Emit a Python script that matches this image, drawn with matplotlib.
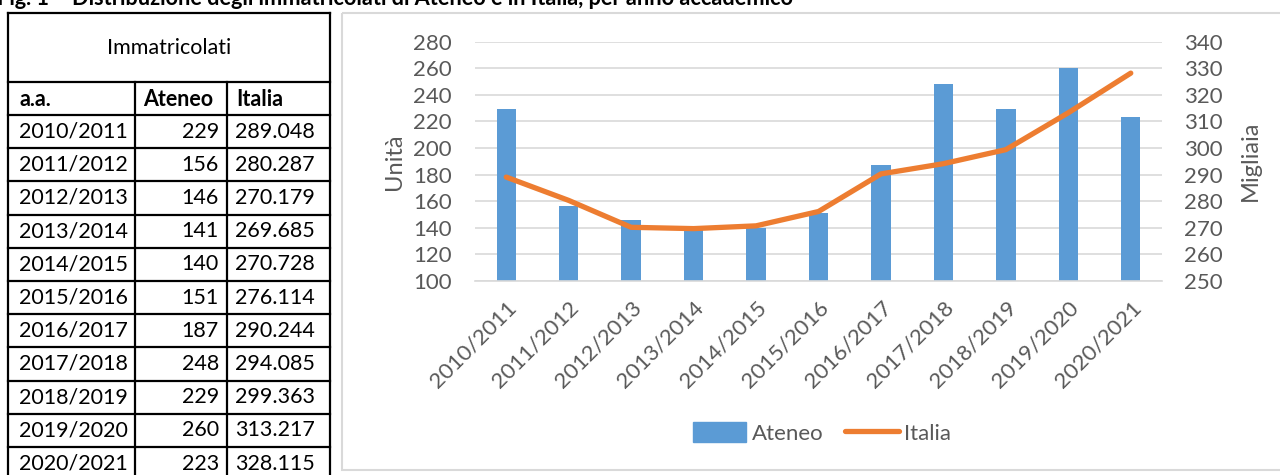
import matplotlib
matplotlib.use("Agg")
import matplotlib.pyplot as plt
from matplotlib.patches import Rectangle
from matplotlib.lines import Line2D

plt.rcParams['font.family'] = ['Lato', 'DejaVu Sans']

years = ["2010/2011", "2011/2012", "2012/2013", "2013/2014", "2014/2015", "2015/2016",
         "2016/2017", "2017/2018", "2018/2019", "2019/2020", "2020/2021"]
ateneo = [229, 156, 146, 141, 140, 151, 187, 248, 229, 260, 223]
italia = [289048, 280287, 270179, 269685, 270728, 276114, 290244, 294085, 299363, 313217, 328115]

title = "Fig. 1 – Distribuzione degli immatricolati di Ateneo e in Italia, per anno accademico"
W, H = 1280, 475
fig = plt.figure(figsize=(W / 100, H / 100), dpi=100)

# overlay axes in pixel coordinates for table and frame
ov = fig.add_axes([0, 0, 1, 1])
ov.set_xlim(0, W)
ov.set_ylim(H, 0)
ov.axis('off')

ov.text(-3, 5, title, fontsize=15.7, fontweight='bold', ha='left', va='baseline', color='black')

# chart frame
ov.add_patch(Rectangle((342, 13), 1000, 457, fill=False, edgecolor='#D9D9D9', lw=1.5))

# table
x0, c1, c2, x3 = 8, 135, 227, 330
ytop, yhead, ysub = 13, 82, 115
rh = 33.2
lw = 1.6
ybot = ysub + rh * len(years)
ov.plot([x0, x3], [ytop, ytop], color='black', lw=lw)
ov.plot([x0, x3], [yhead, yhead], color='black', lw=lw)
ov.plot([x0, x3], [ysub, ysub], color='black', lw=lw)
for k in range(1, len(years) + 1):
    ov.plot([x0, x3], [ysub + rh * k] * 2, color='black', lw=lw)
ov.plot([x0, x0], [ytop, ybot + 5], color='black', lw=lw)
ov.plot([x3, x3], [ytop, ybot + 5], color='black', lw=lw)
ov.plot([c1, c1], [yhead, ybot + 5], color='black', lw=lw)
ov.plot([c2, c2], [yhead, ybot + 5], color='black', lw=lw)

fs = 15.5
ov.text((x0 + x3) / 2, 48, "Immatricolati", fontsize=fs, ha='center', va='center', color='black')
ov.text(19, 99, "a.a.", fontsize=fs, fontweight='bold', ha='left', va='center')
ov.text(143, 99, "Ateneo", fontsize=fs, fontweight='bold', ha='left', va='center')
ov.text(236, 99, "Italia", fontsize=fs, fontweight='bold', ha='left', va='center')
for i, (yr, a, it) in enumerate(zip(years, ateneo, italia)):
    yc = ysub + rh * (i + 0.5)
    ov.text(19, yc, yr, fontsize=fs, ha='left', va='center')
    ov.text(219, yc, f"{a}", fontsize=fs, ha='right', va='center')
    ov.text(235, yc, f"{it:,}".replace(",", "."), fontsize=fs, ha='left', va='center')

# chart
left = 475 / W
right = 1162 / W
bottom = 1 - 281 / H
top = 1 - 41.5 / H
ax = fig.add_axes([left, bottom, right - left, top - bottom])
ax2 = ax.twinx()
ax.set_zorder(1)
ax2.set_zorder(2)
ax.patch.set_visible(False)
ax2.patch.set_visible(False)

x = list(range(len(years)))
bar_c = '#5B9BD5'
line_c = '#ED7D31'
grey = '#595959'

ax.bar(x, ateneo, width=0.31, color=bar_c, zorder=2, label='Ateneo')
ax2.plot(x, [v / 1000 for v in italia], color=line_c, lw=3.8, solid_capstyle='round',
         solid_joinstyle='round', label='Italia')

ax.set_xlim(-0.5, len(years) - 0.5)
ax.set_ylim(100, 280)
ax.set_yticks(range(100, 281, 20))
ax2.set_ylim(250, 340)
ax2.set_yticks(range(250, 341, 10))

ax.grid(axis='y', color='#D9D9D9', lw=1.2, zorder=0)
ax.set_axisbelow(True)
tfs = 16
for a_ in (ax, ax2):
    for s in a_.spines.values():
        s.set_visible(False)
    a_.tick_params(length=0, labelsize=tfs, colors=grey)
ax.spines['bottom'].set_visible(True)
ax.spines['bottom'].set_color('#D9D9D9')
ax.spines['bottom'].set_linewidth(1.2)

ax.tick_params(axis='y', pad=16.5)
ax2.tick_params(axis='y', pad=16)
ax.set_xticks(x)
ax.set_xticklabels(years, rotation=45, ha='right', rotation_mode='anchor', fontsize=tfs, color=grey)
ax.tick_params(axis='x', pad=12)

ax.set_ylabel("Unità", fontsize=17, color=grey, labelpad=6)
ax2.set_ylabel("Migliaia", fontsize=17, color=grey, labelpad=12)

handles = [Rectangle((0, 0), 1, 1, color=bar_c),
           Line2D([0], [0], color=line_c, lw=3.8, solid_capstyle='round')]
fig.legend(handles, ["Ateneo", "Italia"], loc='center', bbox_to_anchor=(822 / W, 1 - 433 / H),
           ncol=2, frameon=False, fontsize=tfs, labelcolor=grey, handlelength=2.4,
           handletextpad=0.25, columnspacing=1.0, handleheight=1.0)

fig.savefig("out.png", dpi=100)
